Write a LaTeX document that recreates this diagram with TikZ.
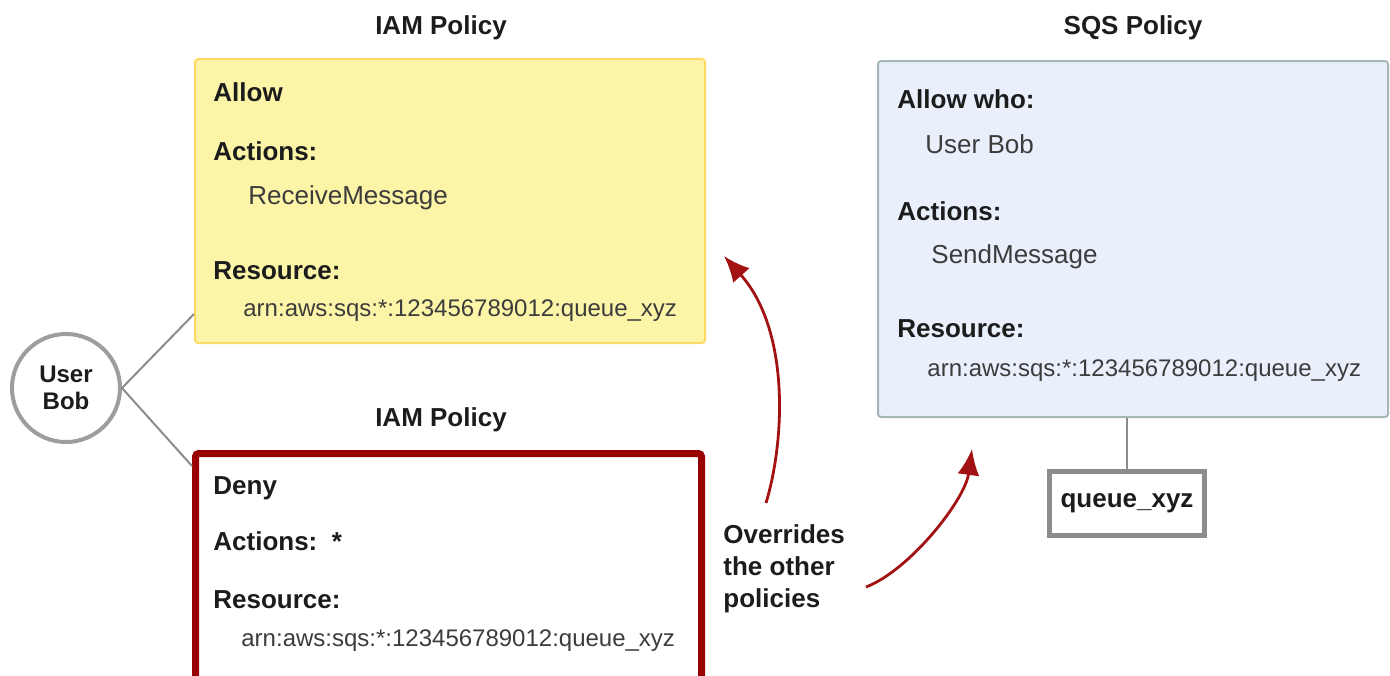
\documentclass[tikz,border=0pt]{standalone}
\usepackage{fontspec}
\setmainfont{Liberation Sans}
\usetikzlibrary{positioning}
\usetikzlibrary{arrows.meta}
\definecolor{allowfill}{HTML}{FCF4A6}
\definecolor{allowdraw}{HTML}{FFD966}
\definecolor{denydraw}{HTML}{990000}
\definecolor{sqsfill}{HTML}{E9F0FC}
\definecolor{sqsdraw}{HTML}{A4B6B6}
\definecolor{greyline}{HTML}{8C8C8C}
\definecolor{arrowred}{HTML}{A31212}
\definecolor{labeltext}{HTML}{1C1C1C}
\definecolor{valuetext}{HTML}{3C3C3C}
\newcommand{\basefont}{\fontsize{13}{16}\selectfont}
\newcommand{\arnfont}{\fontsize{12}{14}\selectfont}
\tikzstyle{policy}=[
  rectangle,
  anchor=north west,
  rounded corners=.3ex,
  inner sep=0pt
]
\tikzstyle{allowpolicy}=[policy,draw=allowdraw,fill=allowfill,line width=1pt,
  minimum width=255pt,minimum height=142pt]
\tikzstyle{denypolicy}=[policy,draw=denydraw,fill=white,line width=3.5pt,
  minimum width=253pt,minimum height=130pt]
\tikzstyle{sqspolicy}=[policy,draw=sqsdraw,fill=sqsfill,line width=1pt,
  minimum width=255pt,minimum height=178pt]
\tikzstyle{title}=[anchor=base,inner sep=0pt,text=labeltext,font=\basefont\bfseries]
\tikzstyle{label}=[anchor=base west,inner sep=0pt,text=labeltext,font=\basefont\bfseries]
\tikzstyle{value}=[anchor=base west,inner sep=0pt,text=valuetext,font=\basefont]
\tikzstyle{arn}=[value,font=\arnfont]
\tikzstyle{link}=[draw=greyline,line width=1pt]
\tikzstyle{override}=[draw=arrowred,line width=1.4pt,-{Latex[length=13pt,width=11pt]}]

\begin{document}
\begin{tikzpicture}[x=0.5pt,y=-0.5pt,font=\basefont]
  \path[use as bounding box,clip] (0,0) rectangle (1390,675);
  % IAM policy that allows
  \node[title] (allowtitle) at (441,34) {IAM Policy};
  \node[allowpolicy] (iamallow) at (194,58) {};
  \node[label] (allowword) at (213,101) {Allow};
  \node[label] (allowact) at (213,160) {Actions:};
  \node[value] (allowactval) at (248,204) {ReceiveMessage};
  \node[label] (allowres) at (213,279) {Resource:};
  \node[arn] (allowresval) at (243,316) {arn:aws:sqs:*:123456789012:queue\_xyz};
  % IAM policy that denies
  \node[title] (denytitle) at (441,426) {IAM Policy};
  \node[denypolicy] (iamdeny) at (192,450) {};
  \node[label] (denyword) at (213,494) {Deny};
  \node[label] (denyact) at (213,550) {Actions:~~*};
  \node[label] (denyres) at (213,608) {Resource:};
  \node[arn] (denyresval) at (241,646) {arn:aws:sqs:*:123456789012:queue\_xyz};
  % SQS policy
  \node[title] (sqstitle) at (1133,34) {SQS Policy};
  \node[sqspolicy] (sqs) at (877,60) {};
  \node[label] (sqswho) at (897,108) {Allow who:};
  \node[value] (sqswhoval) at (925,153) {User Bob};
  \node[label] (sqsact) at (897,220) {Actions:};
  \node[value] (sqsactval) at (931,263) {SendMessage};
  \node[label] (sqsres) at (897,337) {Resource:};
  \node[arn] (sqsresval) at (927,376) {arn:aws:sqs:*:123456789012:queue\_xyz};
  % queue and user
  \node[draw=greyline,line width=2.5pt,minimum width=77.5pt,minimum height=32pt,
    inner sep=0pt,text=labeltext,font=\basefont\bfseries] (queue) at (1127,503) {queue\_xyz};
  \node[circle,draw=greyline!85,line width=2pt,minimum size=54pt,inner sep=0pt,
    align=center,text=labeltext,font=\fontsize{12}{13.5}\selectfont\bfseries] (bob) at (66,388) {User\\Bob};
  \node[anchor=north west,inner sep=0pt,align=left,text=labeltext,
    font=\fontsize{13}{16}\selectfont\bfseries] (overrides) at (723,524) {Overrides\\the other\\policies};
  \coordinate (tipallow) at (724,256);
  \coordinate (tipsqs) at (972,449);
  \draw[link] (bob.east) -- ([yshift=15pt]iamallow.south west);
  \draw[link] (bob.east) -- ([yshift=-8pt]iamdeny.north west);
  \draw[link] (sqs.south -| queue.north) -- (queue.north);
  \draw[override] ([shift={(43,-21)}]overrides.north west) .. controls (785,440) and (790,330) .. (tipallow);
  \draw[override] ([shift={(143,63)}]overrides.north west) .. controls (910,570) and (965,500) .. (tipsqs);
\end{tikzpicture}
\end{document}
